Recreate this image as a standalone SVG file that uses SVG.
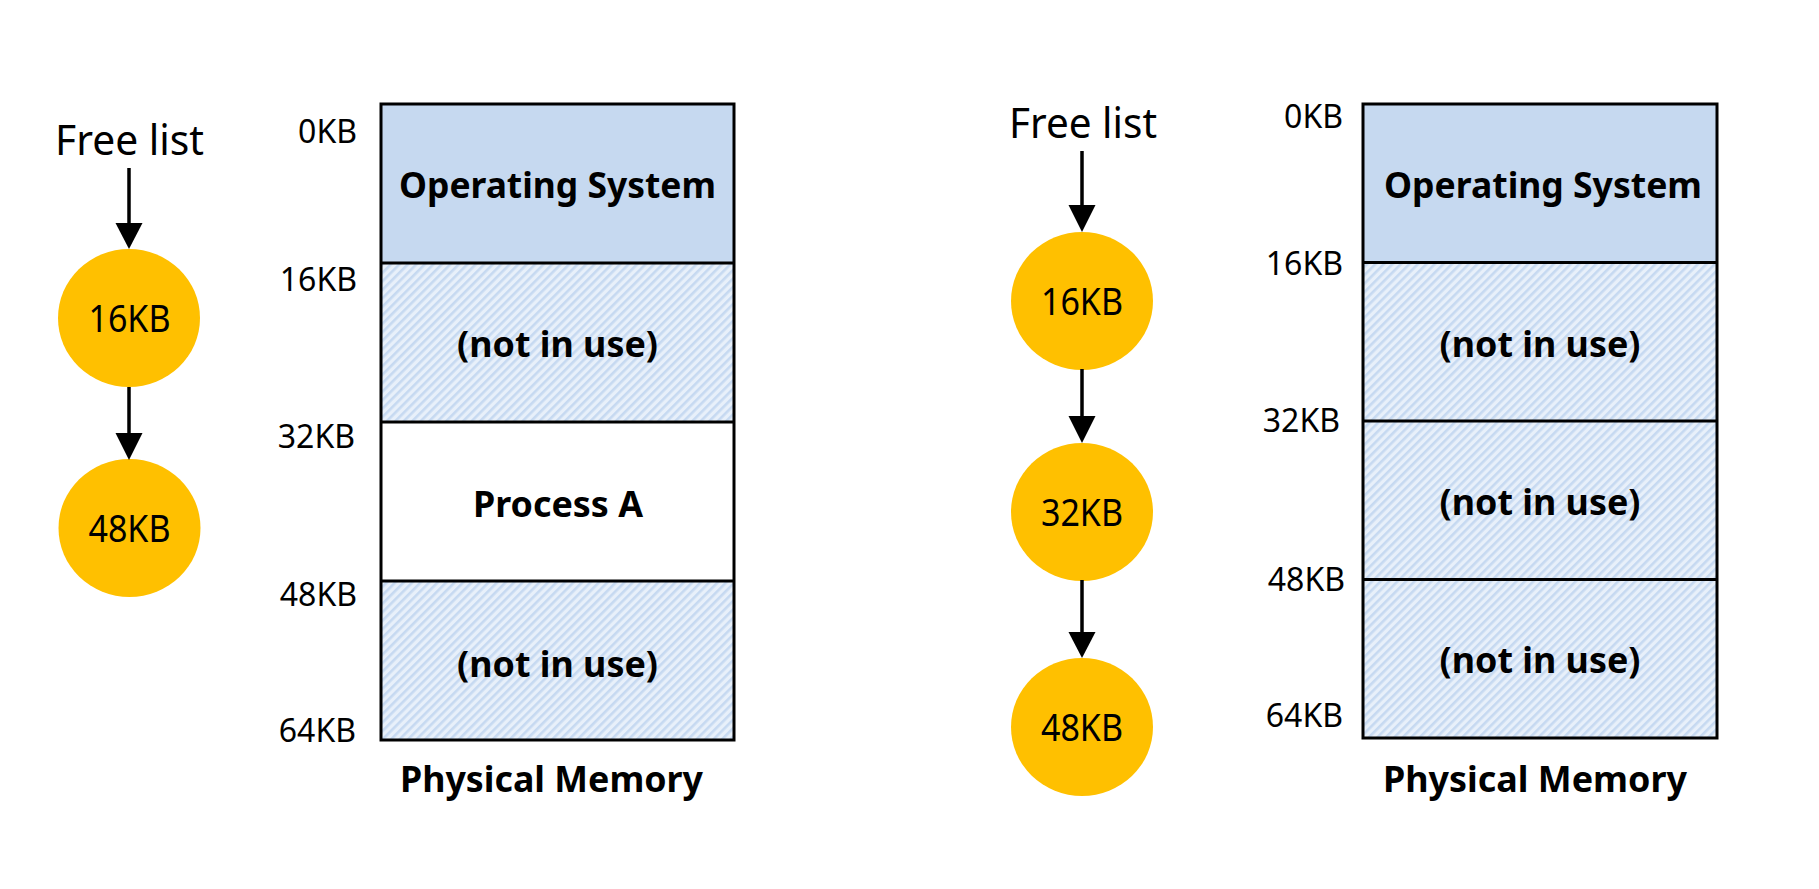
<svg xmlns="http://www.w3.org/2000/svg" width="1819" height="889" viewBox="0 0 1819 889">
<defs>
<pattern id="hatch" width="6" height="6" patternUnits="userSpaceOnUse" patternTransform="rotate(45)">
<rect width="6" height="6" fill="#e8f0fa"/>
<rect x="0" y="0" width="2.6" height="6" fill="#c6d9f1"/>
</pattern>
<style>
.t{font-family:"Noto Sans","Open Sans","DejaVu Sans",sans-serif;fill:#000}
.b{font-weight:bold;font-size:35px;text-anchor:middle}
.lbl{font-size:32px;text-anchor:end}
.cir{font-size:38px;text-anchor:middle}
.fl{font-size:42px;text-anchor:middle}
.node{fill:#ffc000}
.seg{stroke:#000;stroke-width:3}
.os{fill:#c6d9f0}
.free{fill:url(#hatch)}
.used{fill:#fff}
.ln{stroke:#000;stroke-width:3.5;fill:none}
.hd{fill:#000}
</style>
</defs>
<rect width="1819" height="889" fill="#fff"/>

<!-- Left panel -->
<g id="left-freelist-label"><text class="t fl" x="129.5" y="155" textLength="149" lengthAdjust="spacingAndGlyphs">Free list</text></g>
<g id="left-node-16"><ellipse class="node" cx="129" cy="318" rx="71" ry="69"/><text class="t cir" x="129.5" y="332" textLength="82" lengthAdjust="spacingAndGlyphs">16KB</text></g>
<g id="left-node-48"><ellipse class="node" cx="129.5" cy="528" rx="71" ry="69"/><text class="t cir" x="129.5" y="542" textLength="82" lengthAdjust="spacingAndGlyphs">48KB</text></g>

<g id="left-memory">
<rect class="os" x="381" y="104" width="353" height="159"/>
<rect class="free" x="381" y="263" width="353" height="159"/>
<rect class="used" x="381" y="422" width="353" height="159"/>
<rect class="free" x="381" y="581" width="353" height="159"/>
<rect x="381" y="104" width="353" height="636" fill="none" class="seg"/>
<line class="seg" x1="381" y1="263" x2="734" y2="263"/>
<line class="seg" x1="381" y1="422" x2="734" y2="422"/>
<line class="seg" x1="381" y1="581" x2="734" y2="581"/>
<text class="t b" x="557.5" y="198" textLength="317" lengthAdjust="spacingAndGlyphs">Operating System</text>
<text class="t b" x="557.5" y="357" textLength="201" lengthAdjust="spacingAndGlyphs">(not in use)</text>
<text class="t b" x="558" y="517" textLength="170" lengthAdjust="spacingAndGlyphs">Process A</text>
<text class="t b" x="557.5" y="677" textLength="201" lengthAdjust="spacingAndGlyphs">(not in use)</text>
<text class="t lbl" x="357" y="143">0KB</text>
<text class="t lbl" x="357" y="291">16KB</text>
<text class="t lbl" x="355" y="448">32KB</text>
<text class="t lbl" x="357" y="606">48KB</text>
<text class="t lbl" x="356" y="742">64KB</text>
<text class="t b" x="551.5" y="792" textLength="303" lengthAdjust="spacingAndGlyphs">Physical Memory</text>
</g>

<!-- Right panel -->
<g id="right-freelist-label"><text class="t fl" x="1083" y="138" textLength="148" lengthAdjust="spacingAndGlyphs">Free list</text></g>
<g id="right-node-16"><ellipse class="node" cx="1082" cy="301" rx="71" ry="69"/><text class="t cir" x="1082" y="315" textLength="82" lengthAdjust="spacingAndGlyphs">16KB</text></g>
<g id="right-node-32"><ellipse class="node" cx="1082" cy="512" rx="71" ry="69"/><text class="t cir" x="1082" y="526" textLength="82" lengthAdjust="spacingAndGlyphs">32KB</text></g>
<g id="right-node-48"><ellipse class="node" cx="1082" cy="727" rx="71" ry="69"/><text class="t cir" x="1082" y="741" textLength="82" lengthAdjust="spacingAndGlyphs">48KB</text></g>

<g id="right-memory">
<rect class="os" x="1363" y="104" width="354" height="158.5"/>
<rect class="free" x="1363" y="262.5" width="354" height="475.5"/>
<rect x="1363" y="104" width="354" height="634" fill="none" class="seg"/>
<line class="seg" x1="1363" y1="262.5" x2="1717" y2="262.5"/>
<line class="seg" x1="1363" y1="421" x2="1717" y2="421"/>
<line class="seg" x1="1363" y1="579.5" x2="1717" y2="579.5"/>
<text class="t b" x="1543" y="198" textLength="318" lengthAdjust="spacingAndGlyphs">Operating System</text>
<text class="t b" x="1540" y="357" textLength="201" lengthAdjust="spacingAndGlyphs">(not in use)</text>
<text class="t b" x="1540" y="515" textLength="201" lengthAdjust="spacingAndGlyphs">(not in use)</text>
<text class="t b" x="1540" y="673" textLength="201" lengthAdjust="spacingAndGlyphs">(not in use)</text>
<text class="t lbl" x="1343" y="128">0KB</text>
<text class="t lbl" x="1343" y="275">16KB</text>
<text class="t lbl" x="1340" y="432">32KB</text>
<text class="t lbl" x="1345" y="591">48KB</text>
<text class="t lbl" x="1343" y="727">64KB</text>
<text class="t b" x="1535" y="792" textLength="304" lengthAdjust="spacingAndGlyphs">Physical Memory</text>
</g>

<g id="connectors">
<line class="ln" x1="129" y1="168" x2="129" y2="225"/>
<polygon class="hd" points="115.5,223 142.5,223 129,249"/>
<line class="ln" x1="129" y1="387" x2="129" y2="435"/>
<polygon class="hd" points="115.5,433 142.5,433 129,460"/>
<line class="ln" x1="1082" y1="151" x2="1082" y2="207"/>
<polygon class="hd" points="1068.5,205 1095.5,205 1082,232"/>
<line class="ln" x1="1082" y1="369" x2="1082" y2="418"/>
<polygon class="hd" points="1068.5,416 1095.5,416 1082,443"/>
<line class="ln" x1="1082" y1="580" x2="1082" y2="634"/>
<polygon class="hd" points="1068.5,632 1095.5,632 1082,658"/>
</g>
</svg>
